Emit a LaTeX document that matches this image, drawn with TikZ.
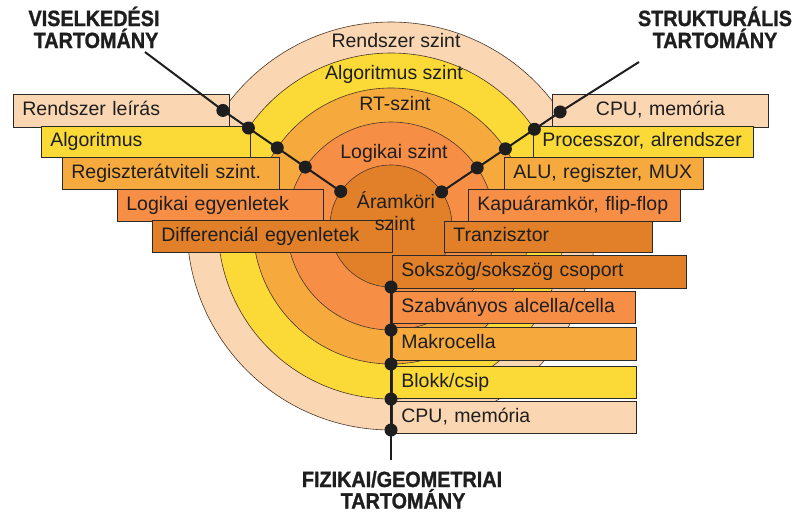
\documentclass[tikz,border=0pt]{standalone}
\usepackage{fontspec}
\setmainfont{Liberation Sans}
\newfontfamily\headfont[FakeStretch=0.9,FakeBold=1.2]{Liberation Sans}
\usetikzlibrary{calc}
\definecolor{cpeach}{HTML}{FAD6B2}
\definecolor{cyellow}{HTML}{FBDA38}
\definecolor{clorange}{HTML}{F6AA3E}
\definecolor{corange}{HTML}{F68E46}
\definecolor{cdorange}{HTML}{E18028}
\definecolor{cedge}{HTML}{2A2A2A}
\definecolor{cring}{HTML}{4A3828}
\definecolor{ctext}{HTML}{1E1E1E}
\begin{document}
\begin{tikzpicture}[x=1pt,y=-1pt,
  box/.style={draw=cedge, line width=0.8pt, inner xsep=9pt, inner ysep=0pt,
    anchor=north west, align=left, text height=14pt, text depth=4pt,
    font=\fontsize{19.5}{22}\selectfont, text=ctext},
  cbox/.style={box, align=center},
  ring/.style={draw=cring, line width=0.6pt},
  ringlbl/.style={font=\fontsize{19.5}{22}\selectfont, text=ctext, anchor=base, inner sep=0pt},
  head/.style={font=\headfont\bfseries\fontsize{22}{22}\selectfont, text=ctext, anchor=base, inner sep=0pt},
  axis/.style={line width=2pt, draw=ctext},
  dot/.style={circle, fill=ctext, minimum size=13pt, inner sep=0pt}]
\fill[white] (0,0) rectangle (793,512);
\useasboundingbox (0,0) rectangle (793,512);
\coordinate (C) at (391,226);
% rings
\path[ring, fill=cpeach]   (C) circle[radius=204pt];
\path[ring, fill=cyellow]  (C) circle[radius=173pt];
\path[ring, fill=clorange] (C) circle[radius=138pt];
\path[ring, fill=corange]  (C) circle[radius=104pt];
\path[ring, fill=cdorange] (C) circle[radius=61pt];
% left boxes (behavioural)
\node[box, fill=cpeach,   minimum width=216pt, minimum height=33pt, text width=198pt] (bl1) at (13,94) {Rendszer leírás};
\node[box, fill=cyellow,  minimum width=209pt, minimum height=31pt, text width=191pt, inner xsep=7pt] (bl2) at (41,126) {Algoritmus};
\node[box, fill=clorange, minimum width=217pt, minimum height=32pt, text width=199pt] (bl3) at (62,157) {Regiszterátviteli szint.};
\node[box, fill=corange,  minimum width=206pt, minimum height=32pt, text width=188pt] (bl4) at (117,189) {Logikai egyenletek};
\node[box, fill=cdorange, minimum width=240pt, minimum height=32pt, text width=222pt] (bl5) at (152,220) {Differenciál egyenletek};
% right boxes (structural)
\node[cbox, fill=cpeach,  minimum width=216pt, minimum height=33pt, text width=198pt] (br1) at (552,94) {CPU, memória};
\node[box, fill=cyellow,  minimum width=220pt, minimum height=31pt, text width=202pt] (br2) at (533,126) {Processzor, alrendszer};
\node[box, fill=clorange, minimum width=199pt, minimum height=32pt, text width=181pt] (br3) at (504,157) {ALU, regiszter, MUX};
\node[box, fill=corange,  minimum width=212pt, minimum height=32pt, text width=194pt] (br4) at (468,189) {Kapuáramkör, flip-flop};
\node[box, fill=cdorange, minimum width=208pt, minimum height=31pt, text width=190pt] (br5) at (444,221) {Tranzisztor};
% bottom boxes (physical)
\node[box, fill=cdorange, minimum width=294pt, minimum height=33pt, text width=276pt] (bb1) at (392,255) {Sokszög/sokszög csoport};
\node[box, fill=corange,  minimum width=243pt, minimum height=32pt, text width=225pt] (bb2) at (392,291) {Szabványos alcella/cella};
\node[box, fill=clorange, minimum width=244pt, minimum height=33pt, text width=226pt] (bb3) at (392,327) {Makrocella};
\node[box, fill=cyellow,  minimum width=244pt, minimum height=32pt, text width=226pt] (bb4) at (392,366) {Blokk/csip};
\node[box, fill=cpeach,   minimum width=244pt, minimum height=32pt, text width=226pt] (bb5) at (392,401) {CPU, memória};
% ring labels
\node[ringlbl] (lr1) at (396,47) {Rendszer szint};
\node[ringlbl] (lr2) at (394,79) {Algoritmus szint};
\node[ringlbl] (lr3) at (395,110) {RT-szint};
\node[ringlbl] (lr4) at (394,158) {Logikai szint};
\node[ringlbl] (lr5) at (396,208) {Áramköri};
\node[ringlbl] (lr6) at (395,230) {szint};
% axis points
\coordinate (lt) at (145,52);
\coordinate (rt) at (639,62);
\coordinate (bt) at (391,460);
\foreach \r [count=\i] in {204,173,138,104,61} {
  \coordinate (pl\i) at ($(C)+(145.5:\r pt)$);
  \coordinate (pr\i) at ($(C)+(34:\r pt)$);
  \coordinate (pb\i) at ($(C)+(270:\r pt)$);
}
\draw[axis] (lt) -- (pl1) -- (pl2) -- (pl3) -- (pl4) -- (pl5);
\draw[axis] (rt) -- (pr1) -- (pr2) -- (pr3) -- (pr4) -- (pr5);
\draw[axis] (bt) -- (pb1) -- (pb2) -- (pb3) -- (pb4) -- (pb5);
\foreach \i in {1,...,5} {
  \node[dot] (dl\i) at (pl\i) {};
  \node[dot] (dr\i) at (pr\i) {};
  \node[dot] (db\i) at (pb\i) {};
}
% domain headings
\node[head] (hv1) at (94,26) {VISELKEDÉSI};
\node[head] (hv2) at (96,48) {TARTOMÁNY};
\node[head] (hs1) at (715,26) {STRUKTURÁLIS};
\node[head] (hs2) at (715,48) {TARTOMÁNY};
\node[head] (hf1) at (402,487) {FIZIKAI/GEOMETRIAI};
\node[head] (hf2) at (403,508.5) {TARTOMÁNY};
\end{tikzpicture}
\end{document}
